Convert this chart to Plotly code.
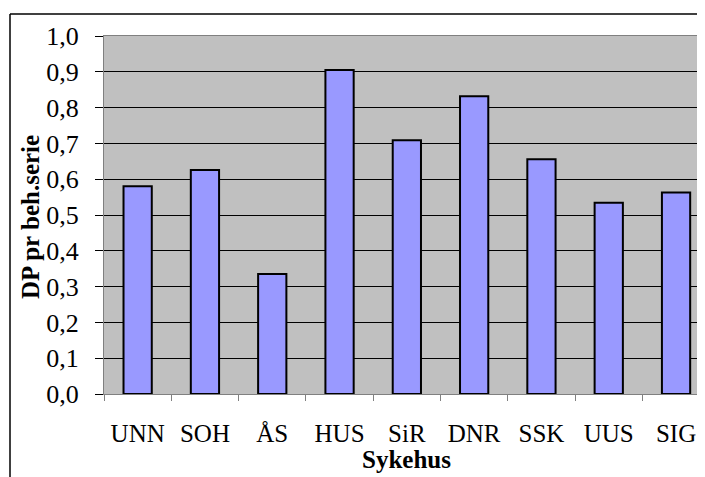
import plotly.graph_objects as go

categories = ["UNN", "SOH", "ÅS", "HUS", "SiR", "DNR", "SSK", "UUS", "SIG"]
values = [0.580, 0.626, 0.335, 0.905, 0.709, 0.832, 0.656, 0.534, 0.563]
y_ticks = [0.0, 0.1, 0.2, 0.3, 0.4, 0.5, 0.6, 0.7, 0.8, 0.9, 1.0]
y_tick_labels = [f"{v:.1f}".replace(".", ",") for v in y_ticks]

FONT = "Liberation Serif"

OFF = 8  # default page body margin
W, H = 705 - OFF, 477 - OFF
# screen coordinates of plot area
SL, ST, SB = 104, 36, 394
L, T = SL - OFF, ST - OFF
B = H - (SB - OFF)
plot_w = W - L
plot_h = H - T - B


def px(x):
    return (x - SL) / plot_w


def py(y):
    return (SB - y) / plot_h


fig = go.Figure(go.Bar(
    x=categories, y=values,
    marker=dict(color="#9999FF", line=dict(color="black", width=2)),
    width=0.42,
))

fig.update_layout(
    width=W, height=H,
    margin=dict(l=L, r=0, t=T, b=B, pad=0),
    paper_bgcolor="white",
    plot_bgcolor="#C0C0C0",
    showlegend=False,
    font=dict(family=FONT, size=24, color="black"),
    xaxis=dict(
        range=[-0.5, -0.5 + plot_w / 67.3],
        tickson="boundaries",
        ticks="outside", ticklen=6, tickcolor="#808080", tickwidth=1,
        showline=True, linecolor="#808080", linewidth=1, mirror=True,
        showgrid=False,
        tickfont=dict(family=FONT, size=25),
        ticklabelstandoff=17,
    ),
    yaxis=dict(
        range=[0, 1.0],
        tickvals=y_ticks, ticktext=y_tick_labels,
        ticks="outside", ticklen=8, tickcolor="black", tickwidth=1,
        showline=True, linecolor="#808080", linewidth=1, mirror=False,
        showgrid=True, gridcolor="black", gridwidth=1,
        zeroline=True, zerolinecolor="black", zerolinewidth=1,
        tickfont=dict(family=FONT, size=26),
        ticklabelstandoff=11,
    ),
    annotations=[
        dict(text="<b>DP pr beh.serie</b>", xref="paper", yref="paper",
             x=px(30), y=py(217), textangle=-90,
             showarrow=False, xanchor="center", yanchor="middle",
             font=dict(family=FONT, size=25)),
        dict(text="<b>Sykehus</b>", xref="paper", yref="paper",
             x=px(406), y=py(459),
             showarrow=False, xanchor="center", yanchor="middle",
             font=dict(family=FONT, size=25)),
    ],
    shapes=[
        dict(type="line", xref="paper", yref="paper",
             x0=px(10), x1=px(720), y0=py(14), y1=py(14),
             line=dict(color="black", width=1.5)),
        dict(type="line", xref="paper", yref="paper",
             x0=px(10), x1=px(10), y0=py(14), y1=py(490),
             line=dict(color="black", width=1.5)),
    ],
)

fig.write_html("out.html")
